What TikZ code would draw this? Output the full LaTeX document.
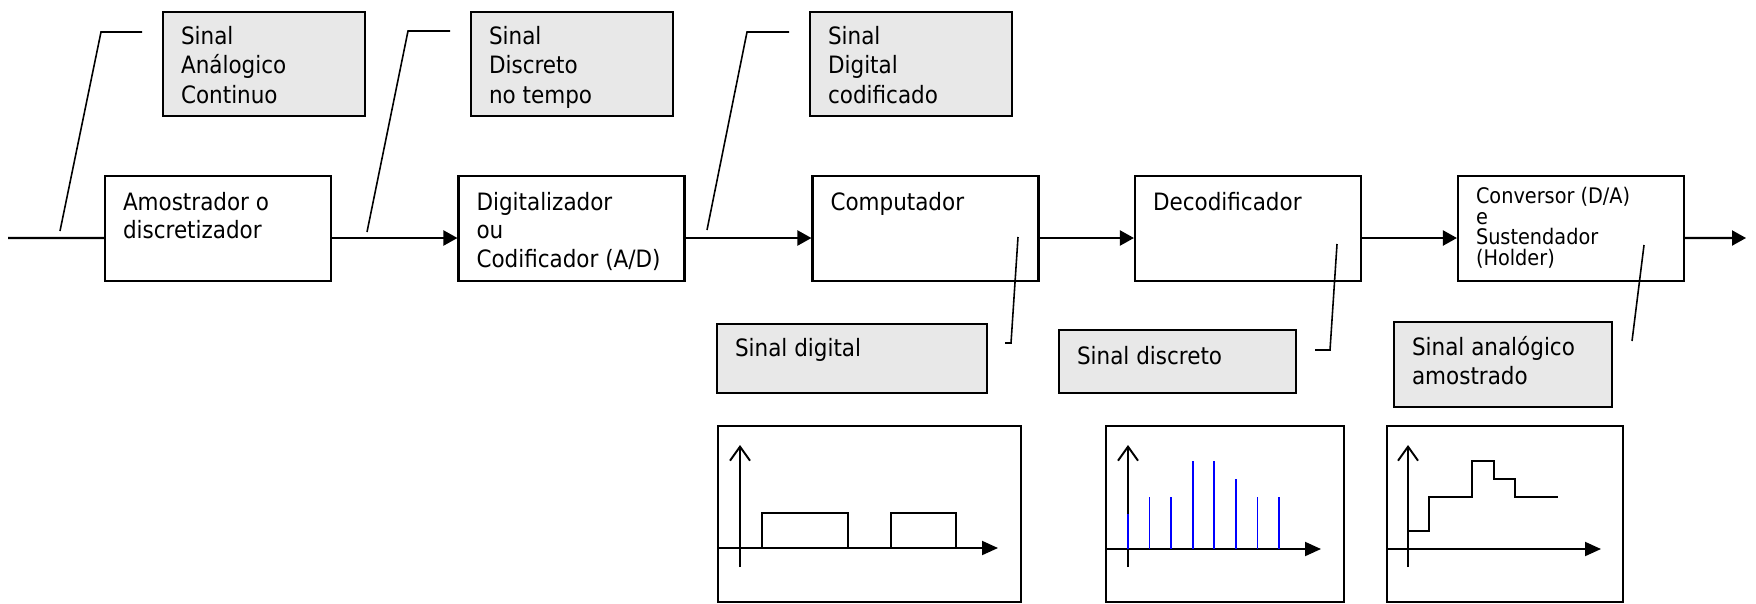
\documentclass[tikz,border=0pt]{standalone}
\usepackage{fontspec}
\setmainfont{DejaVu Sans Condensed}
\usetikzlibrary{arrows.meta}

\definecolor{LabelFill}{RGB}{232,232,232}
\colorlet{StemColor}{blue}

\newcommand{\toptext}[3]{\parbox[c][#2][t]{#1}{\raggedright #3}}

\tikzset{
    block/.style={draw, line width=0.6pt, inner xsep=0.18cm, inner ysep=0.16cm,
        font=\fontsize{6.8}{8.2}\selectfont},
    signal/.style={draw, fill=LabelFill, line width=0.6pt, anchor=north west,
        inner xsep=0.18cm, inner ysep=0.14cm, font=\fontsize{6.8}{8.4}\selectfont},
    flow/.style={line width=0.6pt, -{Triangle[length=0.14cm,width=0.15cm]}},
    callout/.style={line width=0.45pt},
    frame/.style={line width=0.6pt},
    axis/.style={line width=0.55pt, -{Triangle[length=0.16cm,width=0.14cm]}},
    yaxis/.style={line width=0.55pt, -{Straight Barb[length=0.14cm,width=0.2cm]}},
    wave/.style={line width=0.55pt},
    stem/.style={line width=0.5pt, StemColor},
}

\begin{document}
\begin{tikzpicture}

    \useasboundingbox (0,0) rectangle (17.56,-6.03);

    \def\blockw{1.9cm}
    \def\blockh{0.73cm}
    \def\sigshift{-0.095cm}

    % blocks of the chain
    \node[block] (amostrador) at (2.18,-2.285)
        {\toptext{\blockw}{\blockh}{Amostrador o\\discretizador}};
    \node[block] (digitalizador) at (5.715,-2.285)
        {\toptext{\blockw}{\blockh}{Digitalizador\\ou\\Codificador (A/D)}};
    \node[block] (computador) at (9.255,-2.285)
        {\toptext{\blockw}{\blockh}{Computador}};
    \node[block] (decodificador) at (12.48,-2.285)
        {\toptext{\blockw}{\blockh}{Decodificador}};
    \node[block, inner ysep=0.11cm] (conversor) at (15.71,-2.285)
        {\toptext{\blockw}{0.83cm}{\fontsize{6.1}{5.9}\selectfont
            Conversor (D/A)\\e\\Sustendador\\(Holder)}};

    \coordinate (in) at (0.08,-2.38);
    \coordinate (out) at (17.46,-2.38);

    \draw[line width=0.6pt] (in) -- ([yshift=\sigshift]amostrador.west);
    \draw[flow] ([yshift=\sigshift]amostrador.east) -- ([yshift=\sigshift]digitalizador.west);
    \draw[flow] ([yshift=\sigshift]digitalizador.east) -- ([yshift=\sigshift]computador.west);
    \draw[flow] ([yshift=\sigshift]computador.east) -- ([yshift=\sigshift]decodificador.west);
    \draw[flow] ([yshift=\sigshift]decodificador.east) -- ([yshift=\sigshift]conversor.west);
    \draw[flow] ([yshift=\sigshift]conversor.east) -- (out);

    % signal labels
    \node[signal] (sigA) at (1.62,-0.11)
        {\toptext{1.66cm}{0.76cm}{Sinal\\Análogico\\Continuo}};
    \node[signal] (sigB) at (4.70,-0.11)
        {\toptext{1.66cm}{0.76cm}{Sinal\\Discreto\\no tempo}};
    \node[signal] (sigC) at (8.09,-0.11)
        {\toptext{1.66cm}{0.76cm}{Sinal\\Digital\\codificado}};
    \node[signal] (sigD) at (7.16,-3.23)
        {\toptext{2.34cm}{0.41cm}{Sinal digital}};
    \node[signal, inner ysep=0.16cm] (sigE) at (10.58,-3.29)
        {\toptext{2.01cm}{0.31cm}{Sinal discreto}};
    \node[signal] (sigF) at (13.93,-3.21)
        {\toptext{1.82cm}{0.57cm}{Sinal analógico\\amostrado}};

    % callout lines
    \coordinate (cA) at (0.60,-2.31);
    \coordinate (cB) at (3.67,-2.32);
    \coordinate (cC) at (7.07,-2.30);
    \draw[callout] (cA) -- ++(0.41,1.99) -- ++(0.41,0);
    \draw[callout] (cB) -- ++(0.41,2.01) -- ++(0.42,0);
    \draw[callout] (cC) -- ++(0.40,1.98) -- ++(0.42,0);

    \coordinate (cD) at (10.18,-2.37);
    \coordinate (cE) at (13.37,-2.44);
    \coordinate (cF) at (16.44,-2.45);
    \draw[callout] (cD) -- ++(-0.07,-1.06) -- ++(-0.06,0);
    \draw[callout] (cE) -- ++(-0.07,-1.06) -- ++(-0.15,0);
    \draw[callout] (cF) -- ++(-0.12,-0.96);

    % digital signal
    \draw[frame] (7.18,-4.26) rectangle (10.21,-6.02);
    \draw[axis] (7.18,-5.48) -- (9.98,-5.48);
    \draw[yaxis] (7.40,-5.67) -- (7.40,-4.45);
    \draw[wave] (7.40,-5.48) -- (7.62,-5.48) -- (7.62,-5.13) -- (8.48,-5.13)
        -- (8.48,-5.48) -- (8.91,-5.48) -- (8.91,-5.13) -- (9.56,-5.13) -- (9.56,-5.48);

    % discrete signal
    \draw[frame] (11.06,-4.26) rectangle (13.44,-6.02);
    \draw[axis] (11.06,-5.49) -- (13.21,-5.49);
    \draw[yaxis] (11.28,-5.67) -- (11.28,-4.45);
    \foreach \k/\h in {0/0.35, 1/0.52, 2/0.52, 3/0.88, 4/0.88, 5/0.70, 6/0.52, 7/0.52}
        \draw[stem] (11.28+\k*0.2157,-5.49) -- ++(0,\h);

    % sampled analog signal
    \draw[frame] (13.87,-4.26) rectangle (16.23,-6.02);
    \draw[axis] (13.87,-5.49) -- (16.01,-5.49);
    \draw[yaxis] (14.08,-5.67) -- (14.08,-4.45);
    \draw[wave] (14.08,-5.31) -- (14.29,-5.31) -- (14.29,-4.97) -- (14.72,-4.97)
        -- (14.72,-4.61) -- (14.94,-4.61) -- (14.94,-4.79) -- (15.15,-4.79)
        -- (15.15,-4.97) -- (15.58,-4.97);

\end{tikzpicture}
\end{document}
